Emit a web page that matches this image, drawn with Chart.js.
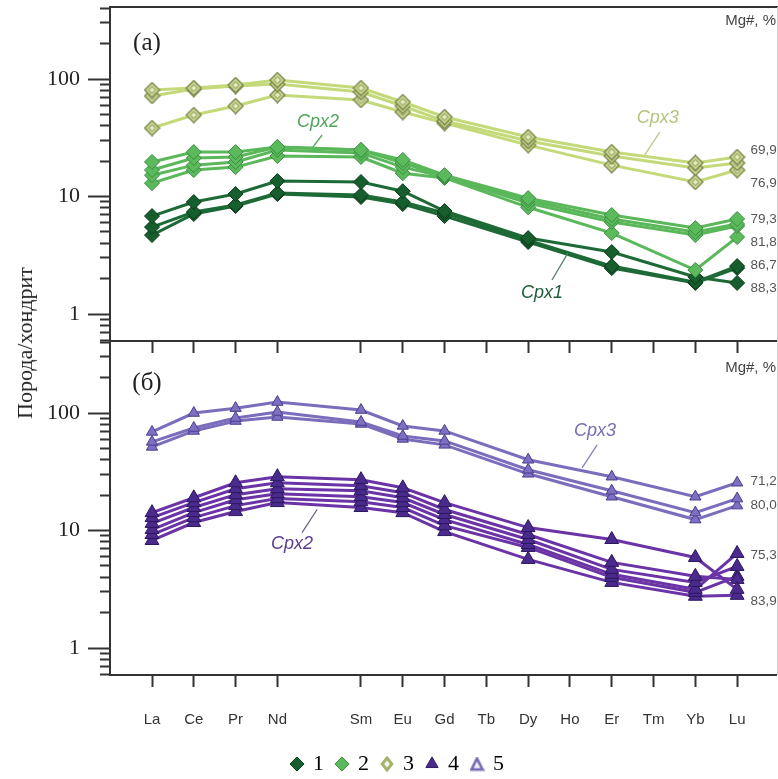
<!DOCTYPE html>
<html><head><meta charset="utf-8">
<script src="https://cdn.jsdelivr.net/npm/chart.js@4.4.1/dist/chart.umd.min.js"></script>
<style>
html,body{margin:0;padding:0;background:#fff;}
#wrap{position:relative;width:778px;height:779px;overflow:hidden;}
canvas{position:absolute;left:0;top:0;}
#ytitle{position:absolute;left:25px;top:343px;transform:translate(-50%,-50%) rotate(-90deg);font:22px "Liberation Serif",serif;color:#222;white-space:nowrap;}
</style></head><body>
<div id="wrap">
<canvas id="cA" width="778" height="779"></canvas>
<canvas id="cB" width="778" height="779"></canvas>
<div id="ytitle">Порода/хондрит</div>
</div>
<script>
// ---- categories & ticks ----
const elements = ['La','Ce','Pr','Nd','','Sm','Eu','Gd','Tb','Dy','Ho','Er','Tm','Yb','Lu'];
const measured = ['La','Ce','Pr','Nd','Sm','Eu','Gd','Dy','Er','Yb','Lu'];
const yTickValues = [0.6,0.7,0.8,0.9,1,2,3,4,5,6,7,8,9,10,20,30,40,50,60,70,80,90,100,200,300,400];
const yLabelValues = [1,10,100];
const legendLabels = ['1','2','3','4','5'];

// ---- panel (а) ----
const group1 = [ // Cpx1
  [6.82, 8.98, 10.5, 13.55, 13.3, 11.1, 7.53, 4.43, 3.37, 2.07, 1.84],
  [5.50, 7.38, 8.47, 10.7, 10.3, 8.98, 7.24, 4.26, 2.56, 1.87, 2.56],
  [4.70, 7.10, 8.30, 10.5, 9.9, 8.63, 6.82, 4.10, 2.46, 1.84, 2.46]
];
const group2 = [ // Cpx2
  [19.7, 23.9, 23.9, 26.4, 24.9, 20.5, 15.2, 9.7, 6.96, 5.39, 6.44],
  [16.8, 21.3, 21.7, 26.4, 24.9, 19.3, 14.9, 9.3, 6.44, 4.99, 5.83],
  [15.2, 18.5, 19.7, 24.9, 23.5, 17.8, 14.7, 8.8, 6.07, 4.70, 5.61],
  [13.0, 16.8, 17.8, 22.1, 21.7, 15.8, 14.4, 8.1, 4.89, 2.37, 4.52]
];
const group3 = [ // Cpx3
  [80.6, 83.8, 88.9, 98.0, 83.8, 63.7, 47.5, 32.1, 23.9, 19.3, 21.7],
  [71.7, 82.2, 87.2, 90.7, 77.5, 58.9, 43.9, 29.7, 22.1, 17.5, 19.3],
  [38.3, 49.4, 58.9, 73.1, 66.3, 52.4, 42.2, 27.4, 18.5, 13.3, 16.8]
];
// ---- panel (б) ----
const group4 = [ // Cpx2
  [14.2, 19.0, 25.5, 28.7, 27.1, 23.1, 17.3, 10.6, 8.39, 5.90, 3.16],
  [12.9, 17.3, 22.7, 25.5, 24.1, 21.0, 15.1, 9.25, 5.36, 4.08, 3.84],
  [11.5, 15.7, 20.2, 22.7, 21.8, 19.0, 13.7, 8.39, 4.67, 3.62, 4.95],
  [10.2, 14.2, 18.3, 20.6, 19.4, 17.3, 12.4, 7.61, 4.24, 3.16, 6.38],
  [9.25, 12.9, 16.3, 18.7, 17.6, 15.7, 11.0, 7.18, 4.00, 2.98, 4.08],
  [8.23, 11.7, 14.5, 17.3, 15.7, 14.2, 9.8, 5.68, 3.62, 2.76, 2.81]
];
const group5 = [ // Cpx3
  [69.0, 100, 110, 124, 106, 77.6, 70.4, 40.0, 28.7, 19.4, 25.5],
  [56.8, 74.6, 90.7, 102, 83.9, 63.8, 57.9, 32.9, 21.8, 14.2, 18.7],
  [51.5, 70.4, 85.5, 92.5, 80.7, 60.2, 53.6, 30.4, 19.4, 12.4, 16.3]
];

// ---- marker images ----
function diamondImg(size, fill, stroke, innerFill){
  const c=document.createElement('canvas'); c.width=c.height=size; const g=c.getContext('2d');
  const h=size/2, r=h-1;
  g.beginPath(); g.moveTo(h,h-r); g.lineTo(h+r,h); g.lineTo(h,h+r); g.lineTo(h-r,h); g.closePath();
  g.fillStyle=fill; g.fill(); g.lineWidth=1.3; g.strokeStyle=stroke; g.stroke();
  const r2=r*0.45;
  g.beginPath(); g.moveTo(h,h-r2); g.lineTo(h+r2,h); g.lineTo(h,h+r2); g.lineTo(h-r2,h); g.closePath();
  g.fillStyle=innerFill; g.fill(); g.lineWidth=1; g.strokeStyle=stroke; g.stroke();
  return c;
}
function hollowDiamond(size, stroke){
  const c=document.createElement('canvas'); c.width=c.height=size; const g=c.getContext('2d');
  const h=size/2, r=h-2;
  g.beginPath(); g.moveTo(h,h-r); g.lineTo(h+r*0.8,h); g.lineTo(h,h+r); g.lineTo(h-r*0.8,h); g.closePath();
  g.fillStyle='#f4f6e6'; g.fill(); g.lineWidth=3; g.strokeStyle=stroke; g.stroke();
  return c;
}
function hollowTriangle(size, stroke){
  const c=document.createElement('canvas'); c.width=c.height=size; const g=c.getContext('2d');
  g.beginPath(); g.moveTo(size/2,2); g.lineTo(size-2,size-2); g.lineTo(2,size-2); g.closePath();
  g.fillStyle='#f3f1fa'; g.fill(); g.lineWidth=2.6; g.strokeStyle=stroke; g.stroke();
  return c;
}
const g3Marker = diamondImg(17, '#cbd98e', '#77844c', '#e6edbd');

const styles = {
  g1:{line:'#1d6a37', fill:'#165e2e', stroke:'#0b3a1b', point:'rectRot', r:7.5},
  g2:{line:'#5ab85a', fill:'#5bbb5c', stroke:'#3c8c42', point:'rectRot', r:7.5},
  g3:{line:'#c4da7a', fill:'#cbd98e', stroke:'#77844c', point:g3Marker, r:8},
  g4:{line:'#6b34a6', fill:'#4a2a8c', stroke:'#2c185f', point:'triangle', r:8},
  g5:{line:'#7c6cbc', fill:'#7e6fc2', stroke:'#4b3d8d', point:'triangle', r:6.5}
};

function toPoints(vals){ return vals.map((v,i)=>({x: elements.indexOf(measured[i]), y: v})); }
function makeSets(lines, st){
  return lines.map(vals => ({
    data: toPoints(vals), borderColor: st.line, borderWidth: 3,
    pointStyle: st.point, pointRadius: st.r, pointHoverRadius: st.r,
    pointBackgroundColor: st.fill, pointBorderColor: st.stroke, pointBorderWidth: 1,
    fill:false, tension:0
  }));
}

const xTickIdx = elements.map((e,i)=> e ? i : -1).filter(i=>i>=0);

function framePlugin(drawTop){
  return { id:'frame', afterDraw(chart){
    const {ctx, chartArea:a} = chart; ctx.save();
    if (drawTop){ ctx.strokeStyle='#333'; ctx.lineWidth=2; ctx.beginPath(); ctx.moveTo(a.left-1,a.top); ctx.lineTo(a.right+2,a.top); ctx.stroke(); }
    ctx.strokeStyle='#cfcfcf'; ctx.lineWidth=1; ctx.beginPath(); ctx.moveTo(a.right+1.5,a.top); ctx.lineTo(a.right+1.5,a.bottom); ctx.stroke();
    ctx.restore();
  }};
}
function annotPlugin(items){
  return { id:'annot', afterDatasetsDraw(chart){
    const {ctx, scales:{x,y}} = chart; ctx.save();
    items.forEach(it=>{
      if (it.type==='line'){
        ctx.strokeStyle=it.color; ctx.lineWidth=1.3; ctx.beginPath();
        ctx.moveTo(x.getPixelForValue(it.x1), y.getPixelForValue(it.y1));
        ctx.lineTo(x.getPixelForValue(it.x2), y.getPixelForValue(it.y2)); ctx.stroke();
      } else {
        ctx.font=it.font; ctx.fillStyle=it.color; ctx.textAlign=it.align||'center'; ctx.textBaseline='middle';
        ctx.fillText(it.text, x.getPixelForValue(it.x), y.getPixelForValue(it.y));
      }
    });
    ctx.restore();
  }};
}

const serif = '"Liberation Serif", "Times New Roman", serif';
const sans = '"Liberation Sans", Arial, sans-serif';
const numFont = '13.5px ' + sans;

const annotA = [
  {text:'(а)', x:-0.12, y:202, font:'25px '+serif, color:'#222'},
  {text:'Mg#, %', x:14.93, y:312, font:'15px '+sans, color:'#444', align:'right'},
  {text:'69,9', x:14.32, y:24.9, font:numFont, color:'#555', align:'left'},
  {text:'76,9', x:14.32, y:13.0, font:numFont, color:'#555', align:'left'},
  {text:'79,3', x:14.32, y:6.44, font:numFont, color:'#555', align:'left'},
  {text:'81,8', x:14.32, y:4.10, font:numFont, color:'#555', align:'left'},
  {text:'86,7', x:14.32, y:2.61, font:numFont, color:'#555', align:'left'},
  {text:'88,3', x:14.32, y:1.66, font:numFont, color:'#555', align:'left'},
  {text:'Cpx2', x:3.97, y:43.1, font:'italic 18px '+sans, color:'#4fa65a'},
  {type:'line', x1:4.07, y1:33.4, x2:3.85, y2:26.4, color:'#5aa865'},
  {text:'Cpx3', x:12.1, y:46.6, font:'italic 18px '+sans, color:'#b4c47c'},
  {type:'line', x1:12.15, y1:35.4, x2:11.79, y2:22.6, color:'#b9c98a'},
  {text:'Cpx1', x:9.33, y:1.51, font:'italic 18px '+sans, color:'#1f5e3a'},
  {type:'line', x1:9.57, y1:1.95, x2:9.95, y2:3.30, color:'#5e7d68'}
];
const annotB = [
  {text:'(б)', x:-0.12, y:180, font:'25px '+serif, color:'#222'},
  {text:'Mg#, %', x:14.93, y:240, font:'15px '+sans, color:'#444', align:'right'},
  {text:'71,2', x:14.32, y:26.0, font:numFont, color:'#555', align:'left'},
  {text:'80,0', x:14.32, y:16.3, font:numFont, color:'#555', align:'left'},
  {text:'75,3', x:14.32, y:6.14, font:numFont, color:'#555', align:'left'},
  {text:'83,9', x:14.32, y:2.50, font:numFont, color:'#555', align:'left'},
  {text:'Cpx2', x:3.35, y:7.61, font:'italic 18px '+sans, color:'#5a3e8f'},
  {type:'line', x1:3.59, y1:9.6, x2:3.95, y2:15.1, color:'#6d6585'},
  {text:'Cpx3', x:10.6, y:70.4, font:'italic 18px '+sans, color:'#7a6cb5'},
  {type:'line', x1:10.65, y1:53.6, x2:10.29, y2:34.2, color:'#8a80b5'}
];

function yAxis(){
  return {
    type:'logarithmic', min:0.59, max:410, bounds:'data',
    afterFit: s => { s.width = 110; s.paddingTop = 0; s.paddingBottom = 0; s.paddingLeft = 0; s.paddingRight = 0; },
    afterBuildTicks: s => { s.ticks = yTickValues.map(v=>({value:v})); },
    ticks:{ autoSkip:false, padding:8, color:'#222', font:{family:serif, size:22},
      callback: v => yLabelValues.includes(v) ? String(v) : '' },
    grid:{ drawOnChartArea:false, drawTicks:true, tickLength:22, tickWidth:2, tickColor:'#333',
      tickBorderDash: ctx => (ctx.tick && yLabelValues.includes(ctx.tick.value)) ? [] : [0,12,10,0] },
    border:{ display:true, color:'#333', width:2 }
  };
}
function xAxis(showLabels, heightFn){
  return {
    type:'linear', min:-1.005, max:14.93, bounds:'data',
    afterBuildTicks: s => { s.ticks = xTickIdx.map(v=>({value:v})); },
    afterFit: s => { s.height = heightFn(s); s.paddingLeft = 0; s.paddingRight = 0; s.paddingTop = 0; s.paddingBottom = 0; },
    ticks:{ display:showLabels, autoSkip:false, maxRotation:0, padding:24, color:'#333',
      font:{family:sans, size:15}, callback: v => elements[v] },
    grid:{ drawOnChartArea:false, tickLength:12, tickWidth:2, tickColor:'#333' },
    border:{ display:true, color:'#333', width:2 }
  };
}

const legendItems = [
  {text:legendLabels[0], pointStyle:'rectRot', fillStyle:styles.g1.fill, strokeStyle:styles.g1.stroke, lineWidth:1},
  {text:legendLabels[1], pointStyle:'rectRot', fillStyle:styles.g2.fill, strokeStyle:styles.g2.stroke, lineWidth:1},
  {text:legendLabels[2], pointStyle:hollowDiamond(16,'#a4b46a'), fillStyle:'#fff', strokeStyle:'#a4b46a', lineWidth:2},
  {text:legendLabels[3], pointStyle:'triangle', fillStyle:styles.g4.fill, strokeStyle:styles.g4.stroke, lineWidth:1},
  {text:legendLabels[4], pointStyle:hollowTriangle(15,'#7566b5'), fillStyle:'#fff', strokeStyle:'#7566b5', lineWidth:2}
];

new Chart(document.getElementById('cA'), {
  type:'line',
  data:{ datasets:[...makeSets(group3, styles.g3), ...makeSets(group2, styles.g2), ...makeSets(group1, styles.g1)] },
  options:{
    responsive:false, animation:false, devicePixelRatio:1,
    layout:{ autoPadding:false, padding:{top:7, right:2, left:0, bottom:0} },
    plugins:{ legend:{display:false}, tooltip:{enabled:false} },
    scales:{ x: xAxis(false, s => 779 - 341), y: yAxis() }
  },
  plugins:[framePlugin(true), annotPlugin(annotA)]
});

new Chart(document.getElementById('cB'), {
  type:'line',
  data:{ datasets:[...makeSets(group5, styles.g5), ...makeSets(group4, styles.g4)] },
  options:{
    responsive:false, animation:false, devicePixelRatio:1,
    layout:{ autoPadding:false, padding:{top:341, right:2, left:0, bottom:0} },
    plugins:{
      legend:{ display:true, position:'bottom',
        labels:{ usePointStyle:true, boxWidth:10, boxHeight:10, padding:13, color:'#111',
          font:{family:serif, size:22}, generateLabels: () => legendItems.map(it=>Object.assign({hidden:false}, it)) } },
      tooltip:{enabled:false}
    },
    scales:{ x: xAxis(true, s => s.chart.height - 675 - s.chart.legend.height), y: yAxis() }
  },
  plugins:[framePlugin(false), annotPlugin(annotB), {id:'legendShift', afterLayout(chart){ const L = chart.legend; if(L){ L.top += 6; L.bottom += 6; L.left += 10; L.right += 10; } }}]
});
</script>
</body></html>
